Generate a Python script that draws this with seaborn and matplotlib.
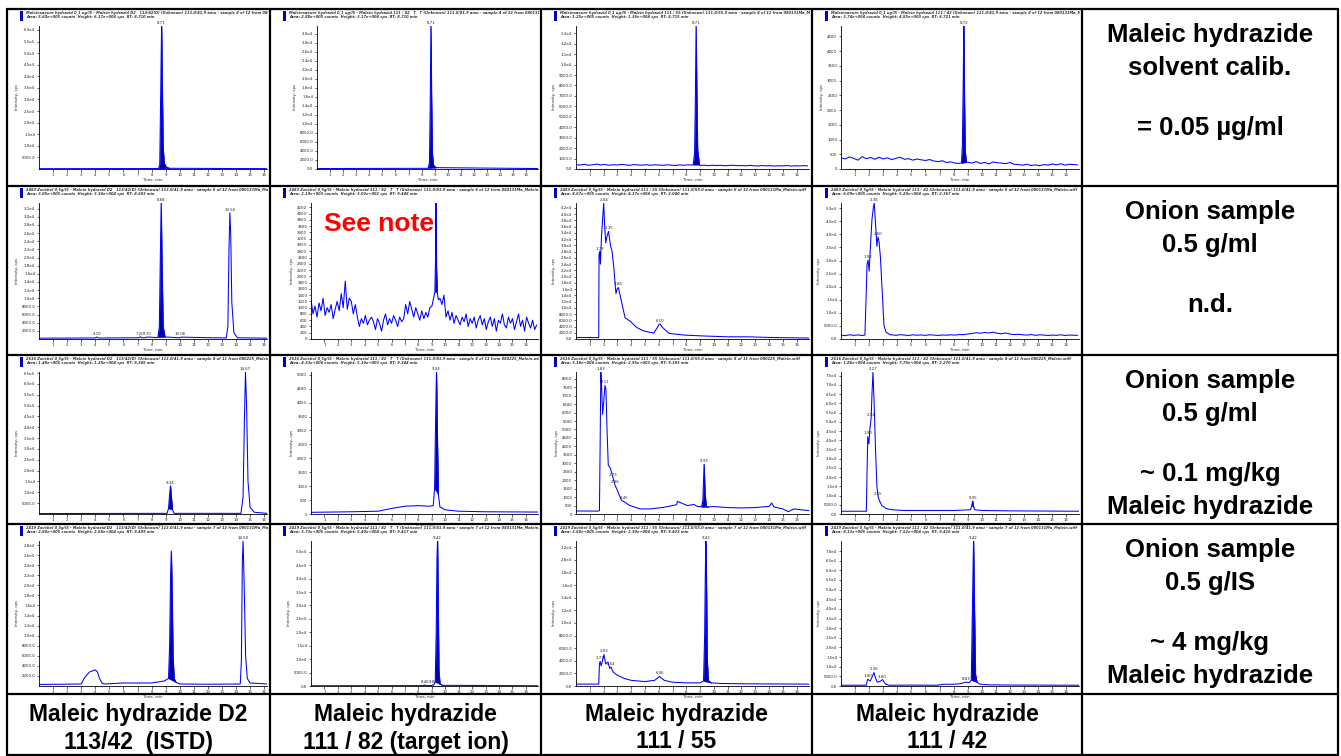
import numpy as np
import seaborn as sns
import matplotlib.pyplot as plt
import matplotlib.ticker as tkr
from matplotlib.patches import Rectangle
from matplotlib.lines import Line2D
from matplotlib.transforms import Bbox, TransformedBbox

# ---------------- data ----------------
# row 1: solvent calibration 0.05 ug/ml
t_11 = [0, 8.5, 8.58, 8.64, 8.71, 8.76, 8.82, 8.9, 9.05, 9.3, 16.5]
y_11 = [150, 200, 2000, 30000, 61700, 35000, 9000, 2500, 800, 300, 150]
t_12 = [0, 8.5, 8.6, 8.66, 8.71, 8.76, 8.82, 8.9, 9.1, 16.9]
y_12 = [100, 150, 1500, 15000, 31700, 16000, 3500, 900, 300, 100]
t_13 = [8.5, 8.6, 8.66, 8.71, 8.76, 8.82, 8.95]
y_13 = [400, 1500, 7000, 13700, 7500, 1800, 420]
noise_13 = [420, 380, 450, 360, 400, 470, 390, 430, 360, 410,
            380, 440, 400, 350, 420, 390, 370, 410, 360, 400,
            380, 350, 400, 370, 340, 390, 360, 400, 380, 350,
            340, 370, 320, 360, 330, 350, 310, 340, 360, 320,
            330, 300, 350, 310, 290, 330, 300, 320, 280, 310,
            300, 330, 280, 310, 290, 320, 300]
t_14 = [8.55, 8.62, 8.68, 8.72, 8.76, 8.82, 8.9]
y_14 = [200, 800, 3000, 4850, 2600, 600, 230]
noise_14 = [380, 340, 410, 360, 300, 420, 350, 390, 330, 400,
            340, 380, 320, 360, 400, 330, 350, 300, 340, 310,
            290, 320, 270, 250, 280, 220, 240, 200, 190, 180,
            230, 200, 250, 190, 220, 170, 240, 210, 200, 180,
            220, 160, 150, 130, 160, 120, 140, 110, 150, 130,
            170, 140, 180, 130, 160, 150, 140]

# row 2: onion sample, n.d.
t_21 = [0, 4.0, 4.1, 4.2, 7.1, 7.2, 7.3, 7.6, 7.7, 8.3, 8.45, 8.55, 8.62, 8.68,
        8.74, 8.82, 8.95, 10.0, 10.1, 13.3, 13.42, 13.5, 13.56, 13.62, 13.7,
        13.85, 14.1, 16.2]
y_21 = [200, 250, 500, 250, 300, 550, 300, 350, 500, 350, 400, 3000, 20000, 33400,
        18000, 3000, 500, 300, 450, 250, 3000, 22000, 31000, 26000, 9000,
        1500, 300, 200]
t_22 = [9.15, 9.22, 9.27, 9.3, 9.34, 9.4, 9.48]
y_22 = [1350, 1500, 2500, 4340, 2300, 1500, 1250]
noise_22 = [1250, 800, 1050, 700, 1150, 900, 1300, 750, 1000, 850,
            1100, 650, 950, 1200, 900, 1450, 1000, 1850, 950, 1300,
            1200, 800, 1100, 700, 400, 650, 500, 750, 450, 600,
            700, 550, 300, 650, 500, 250, 600, 800, 450, 650,
            500, 750, 600, 400, 700, 550, 650, 1100, 800, 1200,
            950, 700, 1000, 800, 600, 900, 650, 850, 700, 1000,
            1050, 1200, 1350, 1400, 1300, 1100, 1400, 700, 900, 600,
            850, 500, 750, 600, 450, 700, 550, 800, 400, 650,
            500, 700, 350, 600, 750, 450, 650, 300, 550, 700,
            400, 650, 250, 600, 500, 800, 450, 350, 700, 500,
            650, 300, 550, 800, 400, 600, 250, 700, 500, 350,
            600, 300, 450]
t_23 = [0, 1.6, 1.65, 1.67, 1.73, 1.77, 1.85, 2.01, 2.08, 2.16, 2.25, 2.36, 2.5,
        2.62, 2.75, 2.85, 2.9, 3.0, 3.08, 3.15, 3.3, 3.56, 3.93, 4.4, 4.9, 5.4,
        5.65, 5.9, 6.02, 6.1, 6.27, 6.76, 7.86, 9.1, 11.0, 12.5, 14.0, 16.9]
y_23 = [500, 450, 500, 27000, 28000, 24000, 33000, 43600, 36000, 30800, 33000,
        34500, 30000, 28000, 22500, 17000, 14600, 16200, 16500, 15000, 12000,
        6800, 5700, 3700, 2600, 2100, 1900, 3700, 4700, 4800, 3700, 1800, 1250,
        1000, 700, 700, 500, 300]
t_24 = [1.7, 1.78, 1.85, 1.92, 2.0, 2.1, 2.2, 2.3, 2.36, 2.45, 2.55, 2.62, 2.7,
        2.8, 2.95, 3.05, 3.2, 3.5]
y_24 = [1500, 15600, 28600, 30200, 26000, 36400, 45800, 50400, 52000, 44200,
        35400, 39000, 37400, 31200, 15600, 5200, 2600, 1600]
noise_24 = [1500, 1300, 1600, 1400, 1550, 1350, 1500, 1500, 1500, 1500,
            1500, 1700, 1600, 1400, 1650, 1500, 1350, 1600, 1450, 1550,
            1400, 1600, 1500, 1350, 1550, 1450, 1600, 1500, 1700, 1650,
            1900, 2100, 2400, 2200, 2500, 2300, 2600, 2200, 2000, 2300,
            1900, 1700, 1800, 1600, 1500, 1700, 1400, 1600, 1500, 1350,
            1500, 1400, 1600, 1350, 1500, 1450, 1400]

# row 3: onion sample ~0.1 mg/kg
t_31 = [0, 9.1, 9.2, 9.28, 9.34, 9.4, 9.48, 9.6, 14.35, 14.5, 14.6, 14.67,
        14.75, 14.85, 15.0, 15.3, 16.2]
y_31 = [200, 300, 2500, 9000, 13000, 8000, 2000, 300, 300, 8000, 45000, 65500,
        50000, 15000, 3000, 800, 300]
t_32 = [0, 3, 5, 6, 7, 8, 8.8, 9.1, 9.2, 9.28, 9.34, 9.4, 9.48, 9.6, 10, 11, 13, 16.9]
y_32 = [60, 80, 100, 200, 280, 300, 280, 300, 900, 3500, 5100, 3000, 700, 250,
        150, 100, 80, 70]
t_33 = [0, 1.6, 1.7, 1.75, 1.8, 1.86, 1.93, 2.0, 2.1, 2.17, 2.25, 2.34, 2.5, 2.7,
        2.83, 3.0, 3.15, 3.3, 3.45, 3.9, 4.66, 5.4, 6.4, 7.3, 7.35, 8.07, 8.56,
        8.8, 9.1, 9.2, 9.29, 9.36, 9.45, 9.6, 10.0, 11.0, 12.0, 13.0, 14.0,
        14.2, 14.35, 15.0, 15.4, 15.8, 16.9]
y_33 = [180, 170, 200, 4000, 8400, 7500, 5900, 6500, 7600, 7400, 5000, 2900,
        2700, 2100, 1700, 1400, 1100, 800, 750, 500, 300, 300, 400, 550, 750,
        500, 560, 450, 420, 800, 2950, 1200, 450, 420, 440, 380, 360, 380, 450,
        650, 420, 300, 140, 300, 200]
t_34 = [0, 1.8, 1.85, 1.9, 1.98, 2.05, 2.14, 2.2, 2.27, 2.35, 2.45, 2.55, 2.65,
        2.75, 2.9, 3.2, 3.6, 4.5, 6, 8, 9.2, 9.28, 9.35, 9.42, 9.5, 10, 12, 16.9]
y_34 = [1500, 1500, 23000, 42000, 38000, 46000, 52000, 65000, 77000, 61000,
        35000, 15000, 9000, 7000, 4600, 3000, 2300, 1900, 1900, 1900, 2300,
        4600, 7000, 3800, 2300, 1900, 1700, 1500]

# row 4: onion sample ~4 mg/kg
t_41 = [0, 3.0, 3.2, 3.4, 3.6, 3.8, 4.0, 4.15, 4.3, 4.5, 4.7, 6.0, 8.0, 8.9, 9.2,
        9.28, 9.35, 9.4, 9.45, 9.52, 9.6, 9.75, 10.0, 12.0, 14.3, 14.38, 14.45,
        14.5, 14.58, 14.68, 14.8, 15.0, 16.2]
y_41 = [300, 400, 1500, 2200, 2800, 3000, 3200, 2800, 1500, 500, 400, 600, 600,
        1000, 1500, 8000, 22000, 26800, 20000, 6000, 1500, 700, 400, 350, 400,
        5000, 25000, 28800, 20000, 6000, 1500, 600, 400]
t_42 = [0, 8.4, 8.46, 8.52, 9.0, 9.06, 9.12, 9.25, 9.32, 9.38, 9.42, 9.47, 9.52,
        9.6, 9.8, 16.9]
y_42 = [100, 150, 400, 150, 200, 450, 250, 1500, 20000, 48000, 54000, 30000,
        6000, 800, 250, 100]
t_43 = [0, 1.65, 1.7, 1.75, 1.82, 1.9, 2.03, 2.15, 2.31, 2.45, 2.54, 2.7, 3.0,
        3.5, 4.0, 5.0, 5.7, 6.06, 6.4, 7.0, 8.0, 9.0, 9.25, 9.33, 9.38, 9.42,
        9.47, 9.52, 9.6, 9.8, 10.5, 12, 16.9]
y_43 = [300, 300, 3500, 3900, 3200, 3800, 5000, 3500, 3800, 2800, 3000, 2200,
        1700, 1200, 900, 700, 900, 1500, 900, 600, 500, 500, 800, 8000, 18000,
        23000, 15000, 4000, 900, 500, 400, 350, 300]
t_44 = [0, 1.8, 1.89, 2.07, 2.2, 2.34, 2.45, 2.57, 2.77, 2.95, 3.15, 3.4, 5.0,
        6.8, 7.3, 8.0, 8.5, 8.85, 9.1, 9.25, 9.33, 9.41, 9.48, 9.55, 9.65, 9.85,
        10.5, 12, 14, 16.9]
y_44 = [400, 400, 3500, 2600, 4500, 7000, 4200, 2000, 2400, 3300, 1100, 400, 450,
        400, 900, 900, 1200, 2000, 1800, 3000, 40000, 75200, 38000, 6000, 2000,
        1000, 600, 500, 450, 400]

# integrated (filled) peak windows, peak labels, y scale (step, top tick, axis max)
fill_11, lab_11, ys_11 = [(8.5, 9.3)], [("8.71", 8.71, 61700)], (5000, 60000, 61700)
fill_12, lab_12, ys_12 = [(8.5, 9.1)], [("8.71", 8.71, 31700)], (2000, 30000, 31700)
fill_13, lab_13, ys_13 = [(8.5, 8.95)], [("8.71", 8.71, 13700)], (1000, 13000, 13700)
fill_14, lab_14, ys_14 = [(8.55, 8.9)], [("8.72", 8.72, 4850)], (500, 4500, 4850)
fill_21, lab_21, ys_21 = [(8.45, 8.95)], [("8.68", 8.68, 33400), ("13.56", 13.56, 31000),
                                          ("4.10", 4.1, 500), ("7.20", 7.2, 550),
                                          ("7.70", 7.7, 500), ("10.06", 10.06, 450)], (2000, 32000, 33400)
fill_22, lab_22, ys_22 = [(9.22, 9.4)], [], (200, 4200, 4340)
fill_23, lab_23, ys_23 = [], [("1.73", 1.73, 28000), ("2.04", 2.01, 43600), ("2.35", 2.36, 34500),
                              ("3.08", 3.08, 16500), ("6.10", 6.1, 4800)], (2000, 42000, 43600)
fill_24, lab_24, ys_24 = [], [("1.92", 1.92, 30200), ("2.36", 2.36, 52000), ("2.60", 2.62, 39000)], (5000, 50000, 52000)
fill_31, lab_31, ys_31 = [(9.15, 9.55)], [("9.34", 9.34, 13000), ("14.67", 14.67, 65500)], (5000, 65000, 65500)
fill_32, lab_32, ys_32 = [(9.15, 9.55)], [("9.34", 9.34, 5100)], (500, 5000, 5100)
fill_33, lab_33, ys_33 = [(9.1, 9.6)], [("1.83", 1.8, 8400), ("2.11", 2.1, 7600), ("2.73", 2.7, 2100),
                                        ("2.86", 2.83, 1700), ("3.45", 3.45, 750), ("9.33", 9.29, 2950)], (500, 8000, 8400)
fill_34, lab_34, ys_34 = [(9.22, 9.48)], [("1.90", 1.9, 42000), ("2.14", 2.14, 52000), ("2.27", 2.27, 77000),
                                          ("2.65", 2.65, 9000), ("9.35", 9.35, 7000)], (5000, 75000, 77000)
fill_41, lab_41, ys_41 = [(9.2, 9.75)], [("14.50", 14.5, 28800)], (2000, 28000, 28800)
fill_42, lab_42, ys_42 = [(9.25, 9.8)], [("8.46", 8.46, 400), ("9.06", 9.06, 450), ("9.42", 9.42, 54000)], (5000, 50000, 54000)
fill_43, lab_43, ys_43 = [(9.25, 9.8)], [("1.73", 1.73, 3900), ("2.03", 2.03, 5000), ("2.54", 2.54, 3000),
                                         ("6.06", 6.06, 1500), ("9.42", 9.42, 23000)], (2000, 22000, 23000)
fill_44, lab_44, ys_44 = [(9.2, 9.7)], [("1.90", 1.89, 3500), ("2.36", 2.34, 7000), ("3.00", 2.95, 3300),
                                        ("8.83", 8.85, 2000), ("9.42", 9.41, 75200)], (5000, 70000, 75200)

sample_names = ["Maleinsaeure hydrazid 0,1 ug/l5", "2483 Zwiebel 0,5g/l5",
                "2616 Zwiebel 0,5g/l5", "2419 Zwiebel 0,5g/l5"]
sample_files = ["sample 4 of 12 from 080131Ma_Malein.wiff", "sample 6 of 12 from 080131Ma_Malein.wiff",
                "sample 8 of 11 from 080225_Malein.wiff", "sample 7 of 12 from 080131Ma_Malein.wiff"]
transitions = ["Malein hydrazid D2   113/42(D) (Unknown) 113.0/41.9 amu",
               "Malein hydrazid 111 / 82   T   T (Unknown) 111.0/81.9 amu",
               "Malein hydrazid 111 / 55 (Unknown) 111.0/55.0 amu",
               "Malein hydrazid 111 / 42 (Unknown) 111.0/41.9 amu"]
areas = [["5.60e+005", "2.88e+005", "1.25e+005", "3.74e+004"],
         ["3.05e+005", "2.19e+003", "4.67e+005", "6.09e+005"],
         ["1.48e+005", "4.33e+004", "3.18e+004", "1.86e+004"],
         ["2.80e+005", "5.73e+005", "2.60e+005", "8.13e+005"]]
heights = [["6.17e+004", "3.17e+004", "1.36e+004", "4.85e+003"],
           ["3.34e+004", "3.02e+002", "4.37e+004", "5.20e+004"],
           ["1.28e+004", "5.10e+003", "2.95e+003", "7.70e+004"],
           ["2.68e+004", "5.40e+004", "2.30e+004", "7.52e+004"]]
rts = [["8.710", "8.710", "8.715", "8.721"],
       ["8.683", "9.448", "2.040", "2.367"],
       ["9.345", "9.344", "9.303", "2.270"],
       ["9.409", "9.417", "9.423", "9.416"]]

note_lines = [["Maleic hydrazide", "solvent calib.", "= 0.05 µg/ml"],
              ["Onion sample", "0.5 g/ml", "n.d."],
              ["Onion sample", "0.5 g/ml", "~ 0.1 mg/kg", "Maleic hydrazide"],
              ["Onion sample", "0.5 g/IS", "~ 4 mg/kg", "Maleic hydrazide"]]
col_titles = [["Maleic hydrazide D2", "113/42  (ISTD)"],
              ["Maleic hydrazide", "111 / 82 (target ion)"],
              ["Maleic hydrazide", "111 / 55"],
              ["Maleic hydrazide", "111 / 42"]]

# ---------------- layout (pixels) ----------------
W, H = 1341, 756
col_edges = [7, 270, 541, 812, 1082, 1338]
row_edges = [9, 186, 355, 524, 694, 755]
axis_bottom = [169, 339, 514, 686]
yaxis_off = [[32, 47, 35, 29], [32, 41, 35, 29], [32, 41, 35, 29], [32, 41, 35, 29]]
note_off = [26, 59, 119, 152]
LINE = "#0000ff"
FILL = "#0000a8"

sns.set_theme(style="ticks")
plt.rcParams["font.family"] = ["DejaVu Sans"]
BIG = dict(fontweight="bold", family="Liberation Sans", color="black",
           ha="center", va="center")

fig = plt.figure(figsize=(W / 100, H / 100), dpi=100)
fig.patch.set_facecolor("white")


def box(x0, y0, x1, y1):
    return [x0 / W, 1 - y1 / H, (x1 - x0) / W, (y1 - y0) / H]


def fx(x):
    return x / W


def fy(y):
    return 1 - y / H


def analyst_fmt(v, pos):
    if v >= 1e4:
        m, e = f"{v:.1e}".split("e")
        return f"{m}e{int(e)}"
    return f"{v:.1f}"


def build(tk, yk, noise=None, span=(0, 16.8)):
    ts, yv = list(tk), list(yk)
    if noise is not None:
        g = np.linspace(span[0], span[1], len(noise))
        keep = (g < tk[0]) | (g > tk[-1])
        ts += list(g[keep])
        yv += list(np.array(noise)[keep])
    order = np.argsort(ts)
    return np.array(ts)[order], np.array(yv, dtype=float)[order]


traces = {
    (0, 0): build(t_11, y_11), (0, 1): build(t_12, y_12),
    (0, 2): build(t_13, y_13, noise_13), (0, 3): build(t_14, y_14, noise_14),
    (1, 0): build(t_21, y_21), (1, 1): build(t_22, y_22, noise_22),
    (1, 2): build(t_23, y_23), (1, 3): build(t_24, y_24, noise_24),
    (2, 0): build(t_31, y_31), (2, 1): build(t_32, y_32),
    (2, 2): build(t_33, y_33), (2, 3): build(t_34, y_34),
    (3, 0): build(t_41, y_41), (3, 1): build(t_42, y_42),
    (3, 2): build(t_43, y_43), (3, 3): build(t_44, y_44),
}
fills = {(0, 0): fill_11, (0, 1): fill_12, (0, 2): fill_13, (0, 3): fill_14,
         (1, 0): fill_21, (1, 1): fill_22, (1, 2): fill_23, (1, 3): fill_24,
         (2, 0): fill_31, (2, 1): fill_32, (2, 2): fill_33, (2, 3): fill_34,
         (3, 0): fill_41, (3, 1): fill_42, (3, 2): fill_43, (3, 3): fill_44}
labels = {(0, 0): lab_11, (0, 1): lab_12, (0, 2): lab_13, (0, 3): lab_14,
          (1, 0): lab_21, (1, 1): lab_22, (1, 2): lab_23, (1, 3): lab_24,
          (2, 0): lab_31, (2, 1): lab_32, (2, 2): lab_33, (2, 3): lab_34,
          (3, 0): lab_41, (3, 1): lab_42, (3, 2): lab_43, (3, 3): lab_44}
yscales = {(0, 0): ys_11, (0, 1): ys_12, (0, 2): ys_13, (0, 3): ys_14,
           (1, 0): ys_21, (1, 1): ys_22, (1, 2): ys_23, (1, 3): ys_24,
           (2, 0): ys_31, (2, 1): ys_32, (2, 2): ys_33, (2, 3): ys_34,
           (3, 0): ys_41, (3, 1): ys_42, (3, 2): ys_43, (3, 3): ys_44}

for r in range(4):
    for c in range(4):
        x0, x1 = col_edges[c], col_edges[c + 1]
        top = row_edges[r]
        ax = fig.add_axes(box(x0 + yaxis_off[r][c], top + 17, x1 - 3, axis_bottom[r]))
        t, y = traces[(r, c)]
        sns.lineplot(x=t, y=y, ax=ax, color=LINE, linewidth=0.75, sort=False, estimator=None)
        for a, b in fills[(r, c)]:
            m = (t >= a) & (t <= b)
            tt, yy = t[m], y[m]
            base = yy[0] + (yy[-1] - yy[0]) * (tt - tt[0]) / (tt[-1] - tt[0])
            ax.fill_between(tt, base, yy, color=FILL, lw=0.3)
        for txt, lx, ly in labels[(r, c)]:
            ax.annotate(txt, (lx, ly), xytext=(0, 0.8), textcoords="offset points",
                        fontsize=2.8, ha="center", va="bottom", annotation_clip=False,
                        color="#222222")
        step, ytop, ymax = yscales[(r, c)]
        start = step if c == 0 else 0
        ax.set_yticks(np.arange(start, ytop + step / 2, step))
        if step >= 1000 or c == 0:
            ax.yaxis.set_major_formatter(tkr.FuncFormatter(analyst_fmt))
        else:
            ax.yaxis.set_major_formatter(tkr.FuncFormatter(lambda v, p: f"{int(v)}"))
        ax.set_ylim(0, ymax)
        ax.set_xlim(0, 16.2 if c == 0 else 16.9)
        ax.set_xticks(range(1, 17))
        ax.set_facecolor("none")
        for s in ["top", "right"]:
            ax.spines[s].set_visible(False)
        for s in ["left", "bottom"]:
            ax.spines[s].set_linewidth(0.6)
            ax.spines[s].set_color("black")
        ax.tick_params(labelsize=2.8, length=1.8, width=0.5, pad=1, colors="#222222")
        ax.set_xlabel("Time, min", fontsize=2.8, labelpad=1)
        ax.set_ylabel("Intensity, cps", fontsize=2.8, labelpad=2)

        # chromatogram header, clipped to its table cell
        fig.add_artist(Rectangle((fx(x0 + 13), fy(top + 12)), 3 / W, 10 / H,
                                 transform=fig.transFigure, color="#0000c0", lw=0))
        head = (f"{sample_names[r]} - {transitions[c]} - {sample_files[r]}\n"
                f"Area: {areas[r][c]} counts  Height: {heights[r][c]} cps  RT: {rts[r][c]} min")
        ht = fig.text(fx(x0 + 19), fy(top + 2), head, fontsize=2.6, fontstyle="italic",
                      fontweight="bold", color="#333333", va="top", ha="left",
                      linespacing=1.1)
        cell = TransformedBbox(Bbox([[fx(x0), 0], [fx(x1 - 2), 1]]), fig.transFigure)
        ht.set_clip_box(cell)
        ht.set_clip_on(True)

# "See note" over the target-ion chromatogram of the n.d. sample
fig.text(fx(379), fy(224), "See note", fontsize=19, fontweight="bold",
         family="Liberation Sans", color="#ff0000", ha="center", va="center")

# right column notes
for r, lines in enumerate(note_lines):
    xc = (col_edges[4] + col_edges[5]) / 2
    for k, line in enumerate(lines):
        fig.text(fx(xc), fy(row_edges[r] + note_off[k]), line, fontsize=18.5, **BIG)

# bottom row titles
for c, lines in enumerate(col_titles):
    xc = (col_edges[c] + col_edges[c + 1]) / 2
    fig.text(fx(xc), fy(714), lines[0], fontsize=16.5, **BIG)
    fig.text(fx(xc), fy(742), lines[1], fontsize=16.5, **BIG)

# table grid
for xe in col_edges:
    fig.add_artist(Line2D([fx(xe), fx(xe)], [fy(row_edges[0]), fy(row_edges[-1])],
                          transform=fig.transFigure, color="black", lw=1.6, zorder=10))
for ye in row_edges:
    fig.add_artist(Line2D([fx(col_edges[0]), fx(col_edges[-1])], [fy(ye), fy(ye)],
                          transform=fig.transFigure, color="black", lw=1.6, zorder=10))

fig.savefig("out.png", dpi=100, facecolor="white")
